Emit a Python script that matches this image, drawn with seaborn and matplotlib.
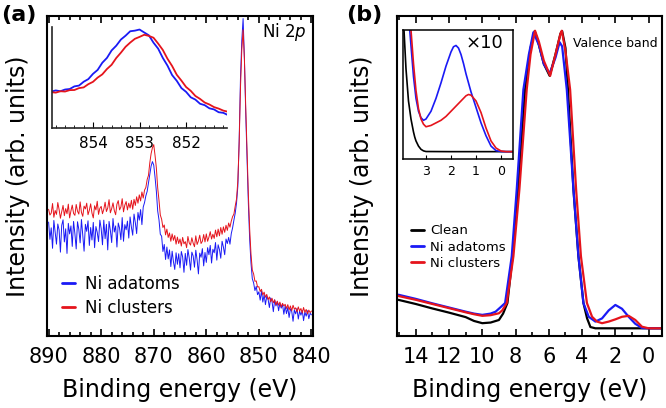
import numpy as np
import matplotlib
matplotlib.use("Agg")
import matplotlib.pyplot as plt
from matplotlib.ticker import MultipleLocator
import seaborn as sns

# ---- panel (a): Ni 2p core level, 890 -> 840 eV on a 0.25 eV grid ----
ni2p_be = np.linspace(890, 840, 201)
ni2p_adatoms = [
    35.6, 30.2, 33.8, 27.4, 36.1, 32.5, 28.7, 35.0, 33.1, 26.2, 34.6, 36.3, 29.4, 33.5, 25.8, 35.2, 31.9, 34.4, 28.0, 35.8,
    32.0, 27.2, 35.7, 33.3, 29.1, 36.4, 31.6, 26.5, 34.9, 32.7, 36.0, 28.3, 33.9, 30.0, 35.5, 27.6, 34.2, 32.4, 29.5, 36.2,
    33.6, 28.5, 36.2, 30.4, 34.9, 26.9, 35.8, 33.0, 29.2, 36.7, 32.5, 34.4, 27.8, 35.3, 33.7, 30.1, 37.0, 29.6, 34.8, 33.2,
    35.9, 30.6, 37.2, 34.0, 31.5, 38.1, 35.4, 32.0, 38.6, 36.2, 39.5, 34.8, 40.3, 41.7, 43.8, 45.2, 47.6, 50.4, 53.1, 54.5,
    53.4, 49.6, 45.2, 39.1, 36.3, 31.8, 31.2, 26.4, 28.6, 23.9, 27.8, 24.1, 26.9, 21.7, 26.5, 23.2, 20.8, 26.0, 22.4, 25.7,
    21.3, 26.4, 24.7, 19.9, 25.8, 22.1, 27.0, 24.4, 20.6, 26.2, 25.0, 21.5, 26.8, 23.8, 19.4, 25.9, 24.6, 27.3, 21.9, 26.1,
    23.0, 27.6, 25.4, 28.3, 22.8, 27.1, 26.0, 29.2, 23.7, 28.5, 27.0, 24.3, 29.6, 27.8, 25.4, 30.3, 28.9, 30.8, 28.7, 32.0,
    33.8, 36.2, 38.4, 41.6, 46.8, 61.0, 80.5, 92.3, 99.2, 86.8, 69.6, 55.5, 41.4, 30.2, 22.8, 17.9, 16.6, 14.2, 15.5, 12.9,
    13.8, 11.2, 14.0, 10.6, 12.9, 9.8, 12.4, 11.5, 8.9, 11.9, 10.8, 7.6, 11.3, 9.4, 10.7, 7.9, 10.2, 8.7, 9.9, 6.8,
    9.4, 7.0, 8.9, 5.8, 8.5, 7.7, 4.6, 8.2, 6.9, 8.6, 5.3, 7.8, 6.5, 8.0, 4.8, 7.5, 6.2, 7.9, 5.4, 7.1,
    6.6,
]
ni2p_clusters = [
    39.6, 37.8, 38.4, 41.4, 37.1, 39.2, 38.0, 41.7, 39.5, 36.8, 38.9, 40.8, 37.6, 39.8, 38.2, 41.2, 36.9, 39.1, 40.9, 38.3,
    37.7, 41.1, 39.0, 38.1, 41.9, 38.6, 37.4, 40.6, 39.7, 41.5, 37.9, 39.3, 41.3, 38.4, 36.9, 40.7, 39.4, 42.1, 38.0, 39.9,
    40.5, 38.2, 39.6, 41.8, 38.9, 40.0, 42.6, 38.5, 39.8, 41.6, 39.2, 37.9, 41.2, 42.3, 39.4, 40.3, 42.9, 38.8, 40.9, 42.0,
    39.4, 41.5, 40.0, 42.4, 39.6, 42.7, 40.8, 43.5, 41.5, 44.1, 42.2, 45.0, 43.1, 45.6, 46.4, 48.9, 50.2, 54.1, 57.0, 58.8,
    59.8, 56.4, 52.5, 46.3, 42.4, 37.8, 36.5, 33.9, 34.7, 31.6, 33.4, 30.8, 32.2, 29.6, 31.9, 29.9, 31.4, 28.7, 30.9, 28.9,
    30.3, 28.1, 30.8, 28.8, 29.5, 27.6, 31.1, 29.1, 28.4, 30.7, 29.0, 27.9, 31.3, 28.6, 29.7, 31.5, 28.9, 29.6, 31.7, 29.4,
    31.9, 29.6, 30.9, 32.6, 30.3, 31.8, 30.5, 33.1, 31.0, 33.4, 31.3, 33.9, 31.8, 34.1, 32.4, 34.6, 33.0, 35.3, 34.0, 35.9,
    37.3, 38.1, 40.6, 42.8, 48.5, 60.2, 77.6, 89.4, 95.7, 86.3, 71.5, 57.8, 44.2, 33.4, 25.6, 20.6, 19.4, 17.1, 17.2, 15.3,
    15.4, 13.9, 14.6, 12.8, 13.7, 12.1, 13.0, 11.4, 12.2, 10.7, 11.8, 10.4, 11.3, 9.7, 10.9, 9.6, 10.6, 9.1, 10.2, 9.4,
    9.9, 8.6, 9.8, 8.2, 9.4, 7.9, 9.6, 8.4, 8.8, 7.5, 9.1, 7.8, 8.6, 7.2, 8.9, 7.4, 8.3, 6.9, 8.1, 7.3,
    7.8,
]

# inset (a): Ni 2p3/2 peak, 854.9 -> 851.1 eV on a 0.1 eV grid
zoom_be = np.linspace(854.9, 851.1, 39)
zoom_adatoms = [
    36.0, 37.2, 36.4, 38.1, 38.6, 41.2, 42.0, 45.8, 48.4, 53.6,
    57.5, 64.6, 69.4, 76.8, 81.5, 87.6, 91.4, 95.8, 96.4, 97.5,
    94.6, 91.8, 84.5, 78.6, 69.4, 61.8, 52.4, 46.7, 39.5, 35.8,
    30.4, 28.1, 24.0, 22.6, 19.5, 18.4, 15.6, 15.0, 12.8,
]
zoom_clusters = [
    35.5, 35.0, 36.4, 36.1, 37.5, 37.6, 39.5, 40.2, 43.4, 45.7,
    49.9, 53.1, 58.4, 62.6, 69.3, 74.6, 80.4, 84.6, 88.3, 90.2,
    92.3, 91.2, 89.4, 83.6, 77.3, 68.6, 61.4, 52.7, 46.9, 40.6,
    36.8, 31.7, 28.8, 25.2, 23.3, 20.7, 19.2, 17.2, 16.1,
]

# ---- panel (b): valence band ----
clean_be = [15.05, 14, 13, 12, 11, 10.5, 10, 9.5, 9.0, 8.75, 8.49, 8.18,
            7.85, 7.43, 7.1, 6.85, 6.6, 6.3, 5.95, 5.6, 5.3, 5.2, 5.0,
            4.85, 4.52, 4.22, 3.92, 3.7, 3.5, 3.2, 2.0, 0.0, -0.8]
clean_int = [11.3, 10.0, 8.6, 7.3, 5.9, 4.7, 4.0, 4.2, 5.0, 7.0, 10.3, 24.9,
             45.8, 77.0, 90.0, 95.3, 91.0, 85.0, 81.3, 88.0, 94.5, 95.3, 90.0,
             77.0, 45.8, 24.9, 10.3, 5.5, 2.8, 2.4, 2.4, 2.4, 2.4]

adatoms_be = [15.05, 14, 13, 12, 11, 10.5, 10, 9.5, 9.2, 8.9, 8.63, 8.23,
              7.93, 7.53, 7.2, 6.93, 6.6, 6.3, 5.95, 5.6, 5.35, 5.2, 4.92,
              4.52, 4.22, 3.92, 3.6, 3.2, 2.8, 2.4, 2.0, 1.6, 1.2, 0.8, 0.4,
              0.0, -0.8]
adatoms_int = [12.9, 11.6, 10.2, 8.9, 7.6, 7.0, 6.6, 7.0, 7.6, 9.0, 10.3, 24.9,
               45.8, 77.0, 88.0, 94.9, 91.0, 85.0, 82.0, 87.0, 91.8, 90.5, 77.0,
               45.8, 24.9, 10.3, 6.0, 4.5, 5.5, 8.0, 9.7, 8.5, 6.0, 3.8, 2.5,
               2.4, 2.4]

clusters_be = [15.05, 14, 13, 12, 11, 10.5, 10, 9.5, 9.0, 8.8, 8.53, 8.13,
               7.77, 7.33, 7.1, 6.83, 6.6, 6.3, 5.92, 5.6, 5.3, 5.22, 5.0,
               4.72, 4.36, 4.07, 3.71, 3.4, 3.1, 2.8, 2.4, 2.0, 1.6, 1.2, 0.8,
               0.4, 0.0, -0.8]
clusters_int = [12.5, 11.3, 10.0, 8.7, 7.4, 6.8, 6.3, 6.5, 7.1, 8.0, 10.3, 24.9,
                45.8, 77.0, 88.0, 95.4, 92.0, 86.0, 81.3, 88.0, 94.5, 95.4, 89.0,
                77.0, 45.8, 24.9, 10.3, 6.0, 4.5, 4.0, 4.5, 5.2, 6.0, 6.3, 5.0,
                2.9, 2.4, 2.4]

# inset (b): near-Fermi region, x10
vb_zoom_clean_be = [3.93, 3.88, 3.8, 3.7, 3.6, 3.5, 3.45, 3.4, 3.3, 3.2, 3.1,
                    3.0, 2.0, 1.0, -0.48]
vb_zoom_clean = [115, 100, 70, 45, 31, 21, 17, 14, 10, 7.5, 6.3,
                 5.8, 5.7, 5.7, 5.7]
vb_zoom_adatoms_be = [3.93, 3.8, 3.7, 3.65, 3.6, 3.5, 3.4, 3.3, 3.2, 3.1, 3.0,
                      2.8, 2.6, 2.4, 2.2, 2.0, 1.9, 1.8, 1.7, 1.6, 1.5, 1.4,
                      1.2, 1.0, 0.8, 0.6, 0.4, 0.2, 0.0, -0.2, -0.48]
vb_zoom_adatoms = [175, 135, 108, 100, 88, 64, 47, 37, 32, 30, 31,
                   37, 47, 59, 72, 83, 87, 88, 86, 81, 74, 66,
                   52, 40, 28, 18, 10, 6.5, 5.8, 5.7, 5.7]
vb_zoom_clusters_be = [3.93, 3.8, 3.7, 3.6, 3.5, 3.4, 3.3, 3.2, 3.1, 3.0,
                       2.8, 2.6, 2.4, 2.2, 2.0, 1.8, 1.6, 1.4, 1.3, 1.2, 1.0,
                       0.8, 0.6, 0.4, 0.2, 0.0, -0.2, -0.48]
vb_zoom_clusters = [185, 148, 120, 100, 74, 53, 39, 31, 27, 25,
                    26, 28, 30, 33, 37, 41, 45, 49, 50, 49.5, 45,
                    36, 24, 14, 8.5, 6.2, 5.7, 5.7]

BLUE = "#1a1af5"
RED = "#e5141c"
BLACK = "#000000"

sns.set_style("ticks")
plt.rcParams["font.family"] = ["DejaVu Sans"]
plt.rcParams["mathtext.fontset"] = "dejavusans"
plt.rcParams["text.color"] = "black"
plt.rcParams["axes.labelcolor"] = "black"
plt.rcParams["xtick.color"] = "black"
plt.rcParams["ytick.color"] = "black"


def frame(ax, lw=1.5):
    for s in ax.spines.values():
        s.set_linewidth(lw)
        s.set_color("black")


fig = plt.figure(figsize=(6.66, 4.08), dpi=100)

# ---------------- panel (a) ----------------
ax_a = fig.add_axes([0.0706, 0.1765, 0.3994, 0.7843])
sns.lineplot(x=ni2p_be, y=ni2p_adatoms, ax=ax_a, color=BLUE, lw=0.7,
             label="Ni adatoms", estimator=None)
sns.lineplot(x=ni2p_be, y=ni2p_clusters, ax=ax_a, color=RED, lw=0.7,
             label="Ni clusters", estimator=None)
ax_a.set_xlim(890.3, 839.7)
ax_a.set_ylim(0, 100)
ax_a.xaxis.set_major_locator(MultipleLocator(10))
ax_a.xaxis.set_minor_locator(MultipleLocator(2))
ax_a.tick_params(axis="x", which="both", direction="in", top=True, bottom=True,
                 labelsize=15, width=1.2, pad=8)
ax_a.tick_params(axis="x", which="major", length=5)
ax_a.tick_params(axis="x", which="minor", length=3)
ax_a.tick_params(axis="y", left=False, labelleft=False)
ax_a.set_xlabel("Binding energy (eV)", fontsize=17, labelpad=8)
ax_a.set_ylabel("Intensity (arb. units)", fontsize=17, labelpad=12)
frame(ax_a)
leg = ax_a.legend(loc="lower left", bbox_to_anchor=(0.03, 0.04), frameon=False,
                  fontsize=12, handlelength=0.8, handletextpad=0.6,
                  labelspacing=0.35, borderaxespad=0)
for h in leg.get_lines():
    h.set_linewidth(2)
ax_a.text(0.975, 0.95, r"Ni $\mathit{2p}$", transform=ax_a.transAxes,
          ha="right", va="center", fontsize=12)

# inset (a)
in_a = fig.add_axes([0.0781, 0.6863, 0.2628, 0.2475])
sns.lineplot(x=zoom_be, y=zoom_adatoms, ax=in_a, color=BLUE, lw=1.3,
             estimator=None)
sns.lineplot(x=zoom_be, y=zoom_clusters, ax=in_a, color=RED, lw=1.3,
             estimator=None)
in_a.set_xlim(854.88, 851.12)
in_a.set_ylim(0, 100)
in_a.patch.set_alpha(0)
in_a.spines["top"].set_visible(False)
in_a.spines["right"].set_visible(False)
in_a.spines["left"].set_linewidth(1.2)
in_a.spines["bottom"].set_linewidth(1.2)
in_a.xaxis.set_major_locator(MultipleLocator(1))
in_a.xaxis.set_minor_locator(MultipleLocator(0.2))
in_a.tick_params(axis="x", which="both", direction="in", labelsize=11, pad=6)
in_a.tick_params(axis="x", which="major", length=4)
in_a.tick_params(axis="x", which="minor", length=2.5)
in_a.tick_params(axis="y", left=False, labelleft=False)

# ---------------- panel (b) ----------------
ax_b = fig.add_axes([0.5968, 0.1765, 0.3971, 0.7843])
sns.lineplot(x=clean_be, y=clean_int, ax=ax_b, color=BLACK, lw=1.6,
             label="Clean", estimator=None)
sns.lineplot(x=adatoms_be, y=adatoms_int, ax=ax_b, color=BLUE, lw=1.6,
             label="Ni adatoms", estimator=None)
sns.lineplot(x=clusters_be, y=clusters_int, ax=ax_b, color=RED, lw=1.6,
             label="Ni clusters", estimator=None)
ax_b.set_xlim(15.1, -0.8)
ax_b.set_ylim(0, 100)
ax_b.xaxis.set_major_locator(MultipleLocator(2))
ax_b.xaxis.set_minor_locator(MultipleLocator(1))
ax_b.tick_params(axis="x", which="both", direction="in", top=True, bottom=True,
                 labelsize=15, width=1.2, pad=8)
ax_b.tick_params(axis="x", which="major", length=5)
ax_b.tick_params(axis="x", which="minor", length=3)
ax_b.tick_params(axis="y", left=False, labelleft=False)
ax_b.set_xlabel("Binding energy (eV)", fontsize=17, labelpad=8)
ax_b.set_ylabel("Intensity (arb. units)", fontsize=17, labelpad=17)
frame(ax_b)
leg_b = ax_b.legend(loc="lower left", bbox_to_anchor=(0.03, 0.19), frameon=False,
                    fontsize=9.5, handlelength=1.0, handletextpad=0.5,
                    labelspacing=0.25, borderaxespad=0)
for h in leg_b.get_lines():
    h.set_linewidth(2)
ax_b.text(0.985, 0.915, "Valence band", transform=ax_b.transAxes,
          ha="right", va="center", fontsize=9)

# inset (b)
in_b = fig.add_axes([0.6047, 0.6103, 0.1656, 0.3162])
sns.lineplot(x=vb_zoom_clean_be, y=vb_zoom_clean, ax=in_b, color=BLACK,
             lw=1.2, estimator=None)
sns.lineplot(x=vb_zoom_adatoms_be, y=vb_zoom_adatoms, ax=in_b, color=BLUE,
             lw=1.2, estimator=None)
sns.lineplot(x=vb_zoom_clusters_be, y=vb_zoom_clusters, ax=in_b, color=RED,
             lw=1.2, estimator=None)
in_b.set_xlim(3.93, -0.48)
in_b.set_ylim(0, 100)
in_b.set_xticks([3, 2, 1, 0])
in_b.tick_params(axis="x", direction="in", labelsize=9, length=3, pad=4)
in_b.tick_params(axis="y", left=False, labelleft=False)
frame(in_b, 1.1)
in_b.text(0.91, 0.9, "\u00d710", transform=in_b.transAxes, ha="right",
          va="center", fontsize=13)

fig.text(0.002, 0.963, "(a)", fontsize=16, fontweight="bold", va="center")
fig.text(0.52, 0.963, "(b)", fontsize=16, fontweight="bold", va="center")

fig.savefig("out.png", dpi=100)
